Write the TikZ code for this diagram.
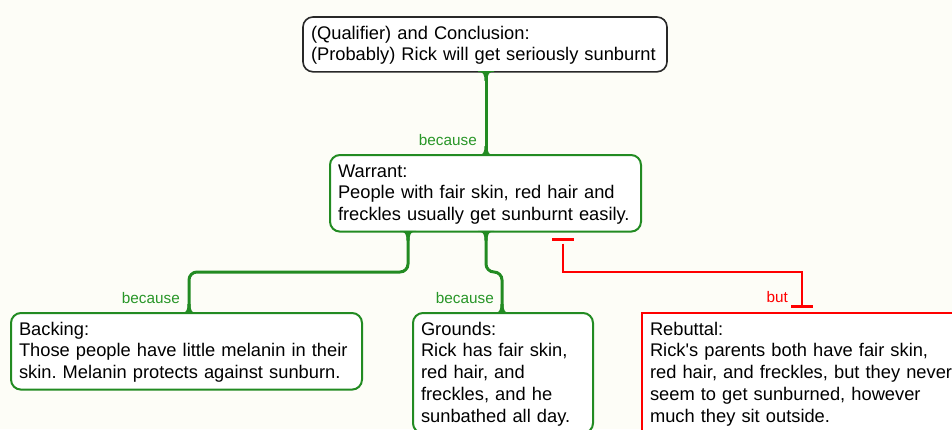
\documentclass[tikz,border=0pt]{standalone}
\usepackage{fontspec}
\setmainfont{Liberation Sans}
\usetikzlibrary{calc}
\frenchspacing

\definecolor{paper}{RGB}{253,253,247}
\definecolor{argreen}{RGB}{34,139,34}
\definecolor{lblgreen}{RGB}{40,150,40}
\definecolor{rebred}{RGB}{255,0,0}
\definecolor{inkgray}{RGB}{40,40,40}

% struts that fix the first baseline and the last depth of a box text
\newcommand{\topstrut}{\rule{0pt}{17pt}}
\newcommand{\botstrut}{\rule[-6pt]{0pt}{6pt}}

% concave flare where a connector meets a box edge
% optional #1: 1 = flare opens downwards, -1 = upwards
\newcommand{\flare}[3][1]{%
  \coordinate (fp) at (#2);
  \fill[#3]
    ($(fp)+(-8,{-0.8*#1})$) -- ($(fp)+(-8,0)$)
    .. controls ($(fp)+(-3,0)$) and ($(fp)+(-1.5,{2*#1})$) .. ($(fp)+(-1.5,{9*#1})$)
    -- ($(fp)+(1.5,{9*#1})$)
    .. controls ($(fp)+(1.5,{2*#1})$) and ($(fp)+(3,0)$) .. ($(fp)+(8,0)$)
    -- ($(fp)+(8,{-0.8*#1})$) -- cycle;}

\tikzset{
  box/.style={draw, fill=white, line width=2pt, rounded corners=10pt,
    anchor=north west, align=left, inner xsep=8pt, inner ysep=5pt,
    outer sep=0pt},
  greenbox/.style={box, draw=argreen},
  graybox/.style={box, draw=inkgray, line width=1.6pt},
  redbox/.style={box, draw=rebred, rounded corners=0pt},
  link/.style={draw=argreen, line width=3pt, rounded corners=8pt},
  rebut/.style={draw=rebred, line width=2pt},
  rebutbar/.style={draw=rebred, line width=3pt},
  lbl/.style={font=\fontsize{15.3}{18}\selectfont, text=lblgreen,
    inner sep=0pt, anchor=base east},
}

\begin{document}
\begin{tikzpicture}[x=1pt, y=-1pt, font=\fontsize{18.3}{21.8}\selectfont]
  \useasboundingbox (0,0) rectangle (952,429);
  \fill[paper] (0,0) rectangle (952,429);

  % boxes
  \node[graybox, text width=348pt] (concl) at (303,17)
    {\topstrut (Qualifier) and Conclusion:\\(Probably) Rick will get seriously sunburnt\botstrut};
  \node[greenbox, text width=295pt] (warrant) at (330,155)
    {\topstrut Warrant:\\People with fair skin, red hair and\\freckles usually get sunburnt easily.\botstrut};
  \node[greenbox, text width=335pt] (backing) at (11,313)
    {\topstrut Backing:\\Those people have little melanin in their\\skin. Melanin protects against sunburn.\botstrut};
  \node[greenbox, text width=164pt] (grounds) at (413,313)
    {\topstrut Grounds:\\Rick has fair skin,\\red hair, and\\freckles, and he\\sunbathed all day.\botstrut};
  \node[redbox, text width=310pt] (rebuttal) at (642,313)
    {\topstrut Rebuttal:\\Rick\textquotesingle s parents both have fair skin,\\red hair, and freckles, but they never\\seem to get sunburned, however\\much they sit outside.\botstrut};

  % connector columns and the common elbow height
  \coordinate (k1) at (486,0);
  \coordinate (k2) at (408,0);
  \coordinate (k3) at (189,0);
  \coordinate (k4) at (502,0);
  \coordinate (rA) at (563,0);
  \coordinate (rB) at (802,0);
  \coordinate (ym) at (0,272);

  % support links
  \draw[link] (concl.south -| k1) -- (warrant.north -| k1);
  \draw[link] (warrant.south -| k2) -- (k2 |- ym) -- (k3 |- ym) -- (backing.north -| k3);
  \draw[link] (warrant.south -| k1) -- (k1 |- ym) -- (k4 |- ym) -- (grounds.north -| k4);

  \flare{concl.south -| k1}{argreen}
  \flare[-1]{warrant.north -| k1}{argreen}
  \flare{warrant.south -| k2}{argreen}
  \flare{warrant.south -| k1}{argreen}
  \flare[-1]{backing.north -| k3}{argreen}
  \flare[-1]{grounds.north -| k4}{argreen}

  % rebuttal link with bar ends
  \draw[rebut] ($(warrant.south -| rA)+(0,12)$) -- (rA |- ym) -- (rB |- ym)
    -- ($(rebuttal.north -| rB)+(0,-7)$);
  \draw[rebutbar] ($(warrant.south -| rA)+(-11,8)$) -- ++(22,0);
  \draw[rebutbar] ($(rebuttal.north -| rB)+(-11,-7)$) -- ++(22,0);

  % link labels
  \node[lbl] (because1) at ($(warrant.north -| k1)+(-9,-10)$) {because};
  \node[lbl] (because2) at ($(backing.north -| k3)+(-9,-10)$) {because};
  \node[lbl] (because3) at ($(grounds.north -| k4)+(-8,-10)$) {because};
  \node[lbl, text=rebred] (butlbl) at ($(rebuttal.north -| rB)+(-14,-11)$) {but};
\end{tikzpicture}
\end{document}
